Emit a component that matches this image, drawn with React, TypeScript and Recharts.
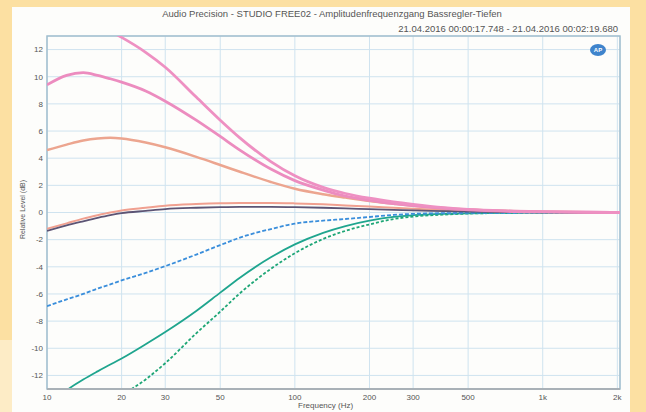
import { LineChart, Line, XAxis, YAxis, CartesianGrid, ReferenceArea } from "recharts";

// Frequenz (Hz)
const freqs = [10, 12, 14, 16, 18, 20, 25, 30, 40, 50, 60, 80, 100, 130, 160, 200, 250, 300, 400, 500, 700, 1000, 1500, 2000, 2050];

// Pegel (dB) je Kurve
const bassMax = [14.6, 14.5, 14.2, 13.8, 13.35, 12.9, 11.8, 10.7, 8.5, 6.8, 5.5, 3.75, 2.7, 1.85, 1.4, 1.05, 0.78, 0.6, 0.36, 0.23, 0.12, 0.06, 0.02, 0, 0];
const bassHigh = [9.4, 10.1, 10.3, 10.1, 9.85, 9.6, 8.95, 8.2, 6.8, 5.6, 4.6, 3.2, 2.35, 1.65, 1.2, 0.9, 0.65, 0.5, 0.3, 0.2, 0.1, 0.05, 0.02, 0, 0];
const bassMid = [4.6, 5.0, 5.3, 5.45, 5.5, 5.45, 5.15, 4.8, 4.1, 3.5, 3.0, 2.25, 1.75, 1.35, 1.1, 0.85, 0.65, 0.5, 0.33, 0.22, 0.12, 0.06, 0.02, 0, 0];
const flatA = [-1.2, -0.8, -0.45, -0.2, 0.0, 0.15, 0.35, 0.5, 0.62, 0.68, 0.7, 0.7, 0.67, 0.6, 0.52, 0.44, 0.35, 0.28, 0.18, 0.12, 0.06, 0.03, 0.01, 0, 0];
const flatB = [-1.35, -0.95, -0.65, -0.4, -0.2, -0.05, 0.12, 0.25, 0.35, 0.4, 0.42, 0.42, 0.4, 0.35, 0.3, 0.25, 0.2, 0.15, 0.1, 0.06, 0.03, 0.01, 0, -0.02, -0.02];
const cutLow = [-6.9, -6.4, -6.0, -5.6, -5.3, -5.0, -4.45, -3.95, -3.1, -2.4, -1.85, -1.22, -0.82, -0.6, -0.48, -0.33, -0.18, -0.1, -0.05, -0.03, -0.02, -0.01, 0, 0, 0];
const cutMid = [-14.5, -13.1, -12.3, -11.7, -11.2, -10.75, -9.7, -8.8, -7.25, -5.9, -4.8, -3.3, -2.35, -1.5, -1.0, -0.6, -0.32, -0.2, -0.1, -0.06, -0.03, -0.01, 0, 0, 0];
const cutMax = [-18, -17.5, -16.5, -15.5, -14.5, -13.6, -12.3, -11.1, -8.9, -7.3, -5.95, -4.15, -3.0, -1.95, -1.35, -0.88, -0.48, -0.3, -0.15, -0.08, -0.04, -0.02, 0, 0, 0];

const xTicks = [10, 20, 30, 50, 100, 200, 300, 500, 1000, 2000];
const yTicks = [-12, -10, -8, -6, -4, -2, 0, 2, 4, 6, 8, 10, 12];

const data = freqs.map((f, i) => ({
  f,
  bassMax: bassMax[i],
  bassHigh: bassHigh[i],
  bassMid: bassMid[i],
  flatA: flatA[i],
  flatB: flatB[i],
  cutLow: cutLow[i],
  cutMid: cutMid[i],
  cutMax: cutMax[i],
}));

const fmtHz = (v: number) => (v >= 1000 ? `${v / 1000}k` : `${v}`);

const font = "'Liberation Sans', Arial, sans-serif";

export default function App() {
  return (
    <div
      style={{
        position: "absolute",
        left: 0,
        top: 0,
        width: 646,
        height: 412,
        overflow: "hidden",
        background: "#fce0a2",
        fontFamily: font,
      }}
    >
      <div style={{ position: "absolute", left: 0, top: 340, width: 12, height: 72, background: "#fdecc6" }} />
      <div style={{ position: "absolute", left: 12, top: 7, width: 618, height: 405, background: "#fdfdfb" }} />
      <div
        style={{
          position: "absolute",
          left: 12,
          width: 640,
          top: 8,
          textAlign: "center",
          fontSize: 9.5,
          color: "#555",
        }}
      >
        Audio Precision - STUDIO FREE02 - Amplitudenfrequenzgang Bassregler-Tiefen
      </div>
      <div
        style={{
          position: "absolute",
          right: 646 - 618,
          top: 23,
          fontSize: 9.5,
          color: "#555",
          whiteSpace: "nowrap",
        }}
      >
        21.04.2016 00:00:17.748 - 21.04.2016 00:02:19.680
      </div>
      <div
        style={{
          position: "absolute",
          left: 22 - 50,
          top: 212 - 6,
          width: 100,
          textAlign: "center",
          fontSize: 7,
          color: "#555",
          transform: "rotate(-90deg)",
        }}
      >
        Relative Level (dB)
      </div>
      <div style={{ position: "absolute", left: 298, top: 401, fontSize: 8, color: "#555" }}>Frequency (Hz)</div>

      <div style={{ position: "absolute", left: 0, top: 0 }}>
        <LineChart width={646} height={412} data={data} margin={{ top: 36, right: 26, bottom: 5, left: 17 }}>
          <CartesianGrid stroke="#cfe3ef" strokeWidth={1} />
          <XAxis
            dataKey="f"
            type="number"
            scale="log"
            domain={[10, 2050]}
            ticks={xTicks}
            tickFormatter={fmtHz}
            allowDataOverflow
            height={18}
            tickLine={false}
            tickSize={3}
            tickMargin={2}
            axisLine={{ stroke: "#a9b1b7", strokeWidth: 2 }}
            tick={{ fontSize: 8, fill: "#555", fontFamily: font }}
          />
          <YAxis
            type="number"
            domain={[-13, 13]}
            ticks={yTicks}
            allowDataOverflow
            width={30}
            tickLine={false}
            tickSize={2}
            tickMargin={2}
            axisLine={false}
            tick={{ fontSize: 8, fill: "#555", fontFamily: font }}
          />
          <ReferenceArea x1={10} x2={2050} y1={-13} y2={13} fill="none" stroke="#a3bfce" strokeWidth={1.5} ifOverflow="visible" />
          <Line dataKey="cutMax" type="monotone" stroke="#1ea676" strokeWidth={1.8} strokeDasharray="3 2" dot={false} isAnimationActive={false} />
          <Line dataKey="cutMid" type="monotone" stroke="#1fa58e" strokeWidth={1.8} dot={false} isAnimationActive={false} />
          <Line dataKey="cutLow" type="monotone" stroke="#3a8edb" strokeWidth={1.8} strokeDasharray="4 2" dot={false} isAnimationActive={false} />
          <Line dataKey="bassMid" type="monotone" stroke="#eca58f" strokeWidth={2.5} dot={false} isAnimationActive={false} />
          <Line dataKey="flatA" type="monotone" stroke="#f0a090" strokeWidth={2} dot={false} isAnimationActive={false} />
          <Line dataKey="flatB" type="monotone" stroke="#5c5474" strokeWidth={1.8} dot={false} isAnimationActive={false} />
          <Line dataKey="bassHigh" type="monotone" stroke="#ec8cbf" strokeWidth={2.8} dot={false} isAnimationActive={false} />
          <Line dataKey="bassMax" type="monotone" stroke="#ee90c2" strokeWidth={2.8} dot={false} isAnimationActive={false} />
        </LineChart>
      </div>

      <div
        style={{
          position: "absolute",
          left: 590,
          top: 44,
          width: 16,
          height: 12,
          borderRadius: "50%",
          background: "#3f84cc",
          color: "#fff",
          fontSize: 6,
          fontWeight: "bold",
          textAlign: "center",
          lineHeight: "12px",
        }}
      >
        AP
      </div>
    </div>
  );
}
